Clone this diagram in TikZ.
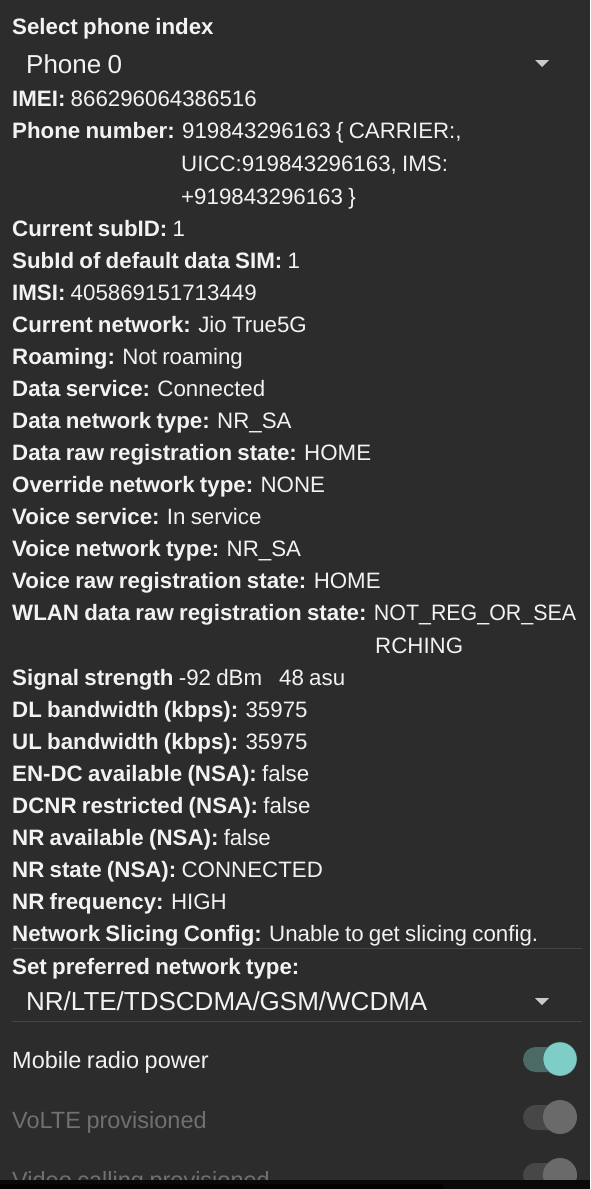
\documentclass[tikz,border=0pt]{standalone}
\usepackage{fontspec}
\setmainfont[WordSpace=0.85]{Liberation Sans}
\usetikzlibrary{positioning}
\definecolor{bg}{HTML}{2C2C2C}
\definecolor{fg}{HTML}{F2F2F2}
\definecolor{dim}{HTML}{707070}
\definecolor{rule}{HTML}{454545}
\definecolor{tealthumb}{HTML}{7FCDC7}
\definecolor{tealtrack}{HTML}{4B6A66}
\definecolor{graythumb}{HTML}{6A6A6A}
\definecolor{graytrack}{HTML}{474747}
\tikzset{
  row/.style={anchor=base west,inner sep=0pt,text=fg,font=\fontsize{22.3}{26}\selectfont},
  pick/.style={anchor=base west,inner sep=0pt,text=fg,font=\fontsize{26}{30}\selectfont},
  sw/.style={anchor=base west,inner sep=0pt,font=\fontsize{23.5}{28}\selectfont},
  tri/.style={fill=fg!80!bg}
}
\begin{document}
\begin{tikzpicture}[x=1pt,y=-1pt]
  \fill[bg] (0,0) rectangle (590,1189); %sfondo
  \useasboundingbox (0,0) rectangle (590,1189);
  \node[row] (sel) at (12,34) {\textbf{Select phone index}};
  \node[pick] (phone) at (26,73) {Phone 0};
  \fill[tri] (535,60) -- (549,60) -- (542,67) -- cycle; %menu
  \node[row] (imei) at (12,106) {\textbf{IMEI:} 866296064386516};
  \node[row] (num) at (12,138) {\textbf{Phone number:} 919843296163 \{ CARRIER:,};
  \node[row] (uicc) at (181,171) {UICC:919843296163, IMS:};
  \node[row] (ims) at (181,204) {+919843296163 \}};
  \foreach \y/\k/\v [count=\i] in {
      236/Current subID/1, 268/SubId of default data SIM/1,
      300/IMSI/405869151713449, 332/Current network/Jio True5G,
      364/Roaming/Not roaming, 396/Data service/Connected,
      428/Data network type/NR\_SA, 460/Data raw registration state/HOME,
      492/Override network type/NONE, 524/Voice service/In service,
      556/Voice network type/NR\_SA, 588/Voice raw registration state/HOME}
    \node[row] (r\i) at (12,\y) {\textbf{\k:} \v};
  \node[row] (wlan) at (12,620) {\textbf{WLAN data raw registration state:} \scalebox{0.96}[1]{NOT\_REG\_OR\_SEA}};
  \node[row] (rch) at (375,653) {RCHING};
  \node[row] (sig) at (12,685) {\textbf{Signal strength} -92 dBm\hspace{17pt}48 asu};
  \foreach \y/\k/\v [count=\i] in {
      717/DL bandwidth (kbps)/35975, 749/UL bandwidth (kbps)/35975,
      781/EN-DC available (NSA)/false, 813/DCNR restricted (NSA)/false,
      845/NR available (NSA)/false, 877/NR state (NSA)/CONNECTED,
      909/NR frequency/HIGH, 941/Network Slicing Config/Unable to get slicing config.}
    \node[row] (s\i) at (12,\y) {\textbf{\k:} \v};
  \draw[rule] (12,948.5) -- (582,948.5);
  \node[row] (pref) at (12,974) {\textbf{Set preferred network type:}};
  \node[pick] (net) at (26,1010) {NR/LTE/TDSCDMA/GSM/WCDMA};
  \fill[tri] (535,998) -- (549,998) -- (542,1005) -- cycle; %menu
  \draw[rule] (12,1021.5) -- (582,1021.5);
  % interruttori
  \node[sw,text=fg] (radio) at (12,1068) {Mobile radio power};
  \fill[tealtrack] (523,1047) [rounded corners=12.5pt] rectangle (574,1072);
  \fill[tealthumb,draw=black!60!tealthumb] (560,1059) circle (17);
  \node[sw,text=dim] (volte) at (12,1128) {VoLTE provisioned};
  \fill[graytrack] (523,1105) [rounded corners=12.5pt] rectangle (574,1130);
  \fill[graythumb] (560,1117) circle (17);
  \node[sw,text=dim] (video) at (12,1188) {Video calling provisioned};
  \fill[graytrack] (523,1163) [rounded corners=12.5pt] rectangle (574,1188);
  \fill[graythumb] (560,1175) circle (17);
  \fill[black!80!bg] (0,1180) rectangle (590,1189);
  \fill[black] (0,1184) rectangle (443,1189);
\end{tikzpicture}
\end{document}
